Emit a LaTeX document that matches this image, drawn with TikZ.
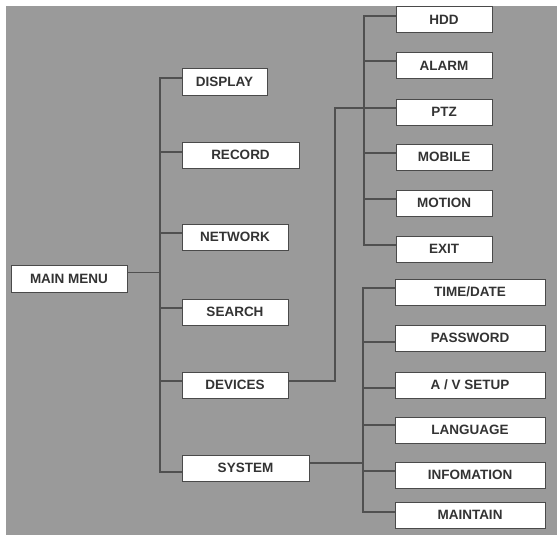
\documentclass[tikz,border=0pt]{standalone}
\usepackage{fontspec}
\setmainfont{Liberation Sans}
\definecolor{bgc}{HTML}{9A9A9A}
\definecolor{boxc}{HTML}{4A4A4A}
\definecolor{linec}{HTML}{505050}
\definecolor{txtc}{HTML}{333333}
\begin{document}
\begin{tikzpicture}[x=1pt,y=-1pt,
  box/.style={draw=boxc, fill=white, line width=1pt, minimum height=26pt, inner sep=0pt,
    font=\fontsize{13.5}{14}\selectfont\bfseries, text=txtc},
  conn/.style={draw=linec, line width=1.2pt}]
\useasboundingbox (0,0) rectangle (557,535);
\fill[white] (0,0) rectangle (557,535);
\fill[bgc] (6,6) rectangle (557,535);

% main
\node[box, minimum width=116pt, minimum height=27pt] (mm) at (69,278.5) {MAIN MENU};
% level 1
\node[box, minimum width=85pt]  (display) at (224.5,82) {DISPLAY};
\node[box, minimum width=117pt] (record)  at (240.5,155) {RECORD};
\node[box, minimum width=106pt] (network) at (235,237) {NETWORK};
\node[box, minimum width=106pt] (search)  at (235,312) {SEARCH};
\node[box, minimum width=106pt] (devices) at (235,385) {DEVICES};
\node[box, minimum width=127pt] (system)  at (245.5,468) {SYSTEM};
% devices sub
\node[box, minimum width=96pt] (hdd)    at (444,20)  {HDD};
\node[box, minimum width=96pt] (alarm)  at (444,66)  {ALARM};
\node[box, minimum width=96pt] (ptz)    at (444,112) {PTZ};
\node[box, minimum width=96pt] (mobile) at (444,157) {MOBILE};
\node[box, minimum width=96pt] (motion) at (444,203) {MOTION};
\node[box, minimum width=96pt] (exit)   at (444,249) {EXIT};
% system sub
\node[box, minimum width=150pt] (time)  at (470,292) {TIME/DATE};
\node[box, minimum width=150pt] (pass)  at (470,338) {PASSWORD};
\node[box, minimum width=150pt] (av)    at (470,385) {A / V SETUP};
\node[box, minimum width=150pt] (lang)  at (470,430) {LANGUAGE};
\node[box, minimum width=150pt] (info)  at (470,475) {INFOMATION};
\node[box, minimum width=150pt] (maint) at (470,515) {MAINTAIN};

% bus x positions
\coordinate (tx) at (160,0);
\coordinate (dx) at (335,0);
\coordinate (hx) at (364,0);
\coordinate (sx) at (363,0);

% main trunk
\path ([yshift=6pt]mm.east) coordinate (mmo);
\path ([yshift=4pt]display.west) coordinate (di);
\path ([yshift=3pt]record.west) coordinate (ri);
\path ([yshift=4pt]network.west) coordinate (ni);
\path ([yshift=4pt]search.west) coordinate (si);
\path ([yshift=4pt]devices.west) coordinate (dvi);
\path ([yshift=-4pt]system.west) coordinate (syi);
\draw[conn] (di) -- (di -| tx) -- (syi -| tx) -- (syi);
\draw[conn] (mmo) -- (mmo -| tx);
\draw[conn] (ri) -- (ri -| tx);
\draw[conn] (ni) -- (ni -| tx);
\draw[conn] (si) -- (si -| tx);
\draw[conn] (dvi) -- (dvi -| tx);

% devices sub
\path ([yshift=4pt]devices.east) coordinate (dvo);
\path ([yshift=4pt]ptz.west) coordinate (pi);
\path ([yshift=4pt]hdd.west) coordinate (hi);
\path ([yshift=5pt]alarm.west) coordinate (ai);
\path ([yshift=4pt]mobile.west) coordinate (moi);
\path ([yshift=4pt]motion.west) coordinate (mti);
\path ([yshift=4pt]exit.west) coordinate (ei);
\draw[conn] (dvo) -- (dvo -| dx) -- (pi -| dx) -- (pi);
\draw[conn] (hi) -- (hi -| hx) -- (ei -| hx) -- (ei);
\draw[conn] (ai) -- (ai -| hx);
\draw[conn] (moi) -- (moi -| hx);
\draw[conn] (mti) -- (mti -| hx);

% system sub
\path ([yshift=5pt]system.east) coordinate (syo);
\path ([yshift=4pt]time.west) coordinate (ti);
\path ([yshift=-4pt]pass.west) coordinate (psi);
\path ([yshift=-3pt]av.west) coordinate (avi);
\path ([yshift=5pt]lang.west) coordinate (li);
\path ([yshift=4pt]info.west) coordinate (ii);
\path ([yshift=3pt]maint.west) coordinate (mai);
\draw[conn] (ti) -- (ti -| sx) -- (mai -| sx) -- (mai);
\draw[conn] (syo) -- (syo -| sx);
\draw[conn] (psi) -- (psi -| sx);
\draw[conn] (avi) -- (avi -| sx);
\draw[conn] (li) -- (li -| sx);
\draw[conn] (ii) -- (ii -| sx);
\end{tikzpicture}
\end{document}
